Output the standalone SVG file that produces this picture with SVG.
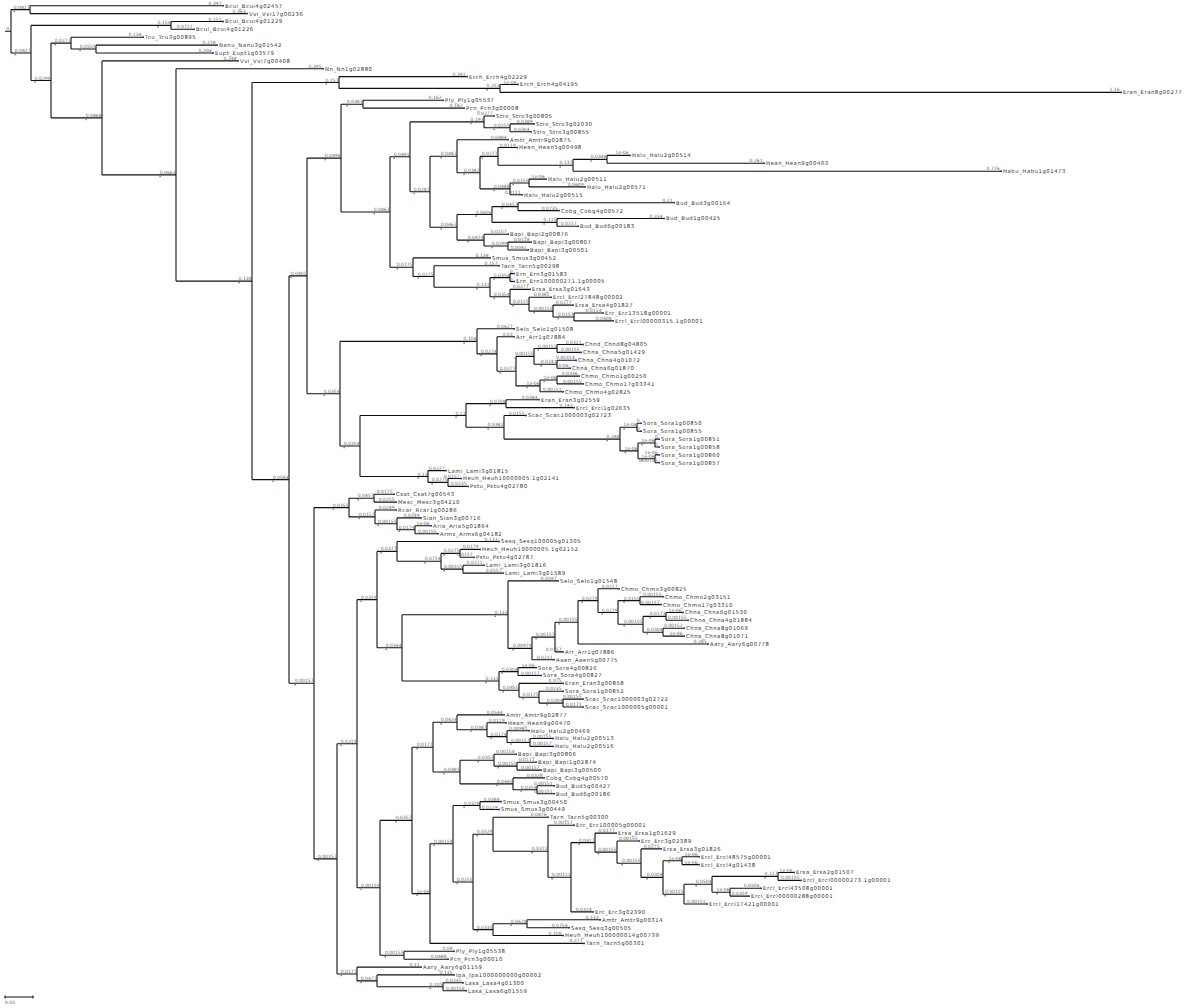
<svg xmlns="http://www.w3.org/2000/svg" width="1200" height="1008" viewBox="0 0 1200 1008">
<style>
.c{fill:none;stroke:#111;stroke-width:1.1}
.n{font-family:"DejaVu Sans",sans-serif;font-size:5.3px;letter-spacing:0.55px;fill:#333}
.b{font-family:"DejaVu Sans",sans-serif;font-size:4.5px;fill:#666;text-anchor:end}
.d{fill:#2a2ad0}
.r{fill:#d03030}
</style>
<rect width="1200" height="1008" fill="#fff"/>
<g id="connectors" class="c">
<path d="M5,31.3H11M11,9.6V53M11,9.6H30M11,53H31"/>
<path d="M30,5.7V13.6M30,5.7H222M30,13.6H246"/>
<path d="M31,25.4V80.5M31,25.4H171M31,80.5H51"/>
<path d="M171,21.5V29.3M171,21.5H222M171,29.3H193"/>
<path d="M51,43.1V117.9M51,43.1H71M51,117.9H102"/>
<path d="M71,37.2V49M71,37.2H142M71,49H96"/>
<path d="M96,45.1V53M96,45.1H216M96,53H212"/>
<path d="M102,60.9V174.9M102,60.9H237M102,174.9H176"/>
<path d="M176,68.7V281.1M176,68.7H322M176,281.1H252"/>
<path d="M252,82.5V479.6M252,82.5H339M252,479.6H289"/>
<path d="M339,76.6V88.4M339,76.6H466M339,88.4H500"/>
<path d="M500,84.5V92.4M500,84.5H517M500,92.4H1120"/>
<path d="M289,275.9V683.2M289,275.9H307M289,683.2H314"/>
<path d="M307,158.1V393.7M307,158.1H341M307,393.7H340"/>
<path d="M341,104.2V212M341,104.2H363M341,212H390"/>
<path d="M363,100.3V108.1M363,100.3H442M363,108.1H463"/>
<path d="M390,156.8V267.2M390,156.8H410M390,267.2H413"/>
<path d="M410,121.9V191.8M410,121.9H484M410,191.8H430"/>
<path d="M484,116V127.8M484,116H493M484,127.8H510"/>
<path d="M510,123.9V131.8M510,123.9H533M510,131.8H530"/>
<path d="M430,156.2V227.3M430,156.2H457M430,227.3H457"/>
<path d="M457,139.7V172.7M457,139.7H507M457,172.7H480"/>
<path d="M480,156.4V188.9M480,156.4H498M480,188.9H510"/>
<path d="M498,147.5V165.3M498,147.5H516M498,165.3H573"/>
<path d="M573,159.4V171.2M573,159.4H607M573,171.2H1000"/>
<path d="M607,155.4V163.3M607,155.4H629M607,163.3H763"/>
<path d="M510,183V194.8M510,183H529M510,194.8H521"/>
<path d="M529,179.1V186.9M529,179.1H545M529,186.9H584"/>
<path d="M457,214.5V240.1M457,214.5H492M457,240.1H484"/>
<path d="M492,206.6V222.4M492,206.6H518M492,222.4H557"/>
<path d="M518,202.7V210.6M518,202.7H673M518,210.6H558"/>
<path d="M557,218.5V226.3M557,218.5H663M557,226.3H577"/>
<path d="M484,234.2V246M484,234.2H507M484,246H508"/>
<path d="M508,242.1V250M508,242.1H530M508,250H527"/>
<path d="M413,257.9V276.5M413,257.9H489M413,276.5H434"/>
<path d="M434,265.7V287.2M434,265.7H498M434,287.2H490"/>
<path d="M490,277.6V296.8M490,277.6H510M490,296.8H510"/>
<path d="M510,273.6V281.5M510,273.6H513M510,281.5H513"/>
<path d="M510,289.4V304.2M510,289.4H529M510,304.2H529"/>
<path d="M529,297.3V311.1M529,297.3H550M529,311.1H553"/>
<path d="M553,305.1V317M553,305.1H572M553,317H574"/>
<path d="M574,313V320.9M574,313H602M574,320.9H612"/>
<path d="M340,341.4V446M340,341.4H477M340,446H360"/>
<path d="M477,328.8V353.9M477,328.8H513M477,353.9H497"/>
<path d="M497,336.7V371.2M497,336.7H513M497,371.2H516"/>
<path d="M516,356.4V385.9M516,356.4H534M516,385.9H540"/>
<path d="M534,348.5V364.2M534,348.5H557M534,364.2H557"/>
<path d="M557,344.5V352.4M557,344.5H582M557,352.4H580"/>
<path d="M557,360.3V368.2M557,360.3H575M557,368.2H569"/>
<path d="M540,380V391.8M540,380H557M540,391.8H562"/>
<path d="M557,376.1V383.9M557,376.1H578M557,383.9H582"/>
<path d="M360,415.5V476.5M360,415.5H466M360,476.5H428"/>
<path d="M466,403.6V427.3M466,403.6H506M466,427.3H504"/>
<path d="M506,399.7V407.6M506,399.7H538M506,407.6H573"/>
<path d="M504,415.5V439.1M504,415.5H525M504,439.1H620"/>
<path d="M620,427.3V450.9M620,427.3H637M620,450.9H638"/>
<path d="M637,423.3V431.2M637,423.3H640M637,431.2H640"/>
<path d="M638,443V458.8M638,443H655M638,458.8H655"/>
<path d="M655,439.1V447M655,439.1H658M655,447H658"/>
<path d="M655,454.9V462.7M655,454.9H658M655,462.7H658"/>
<path d="M428,470.6V482.4M428,470.6H445M428,482.4H448"/>
<path d="M448,478.5V486.4M448,478.5H460M448,486.4H467"/>
<path d="M314,507.6V858.9M314,507.6H349M314,858.9H337"/>
<path d="M349,498.2V516.9M349,498.2H374M349,516.9H375"/>
<path d="M374,494.3V502.1M374,494.3H393M374,502.1H395"/>
<path d="M375,510V523.8M375,510H395M375,523.8H397"/>
<path d="M397,517.9V529.7M397,517.9H420M397,529.7H415"/>
<path d="M415,525.8V533.7M415,525.8H430M415,533.7H437"/>
<path d="M337,743.7V974M337,743.7H357M337,974H357"/>
<path d="M357,599.6V887.8M357,599.6H377M357,887.8H380"/>
<path d="M377,551.4V647.8M377,551.4H397M377,647.8H402"/>
<path d="M397,541.5V561.3M397,541.5H498M397,561.3H441"/>
<path d="M441,553.4V569.1M441,553.4H460M441,569.1H463"/>
<path d="M460,549.4V557.3M460,549.4H479M460,557.3H473"/>
<path d="M463,565.2V573.1M463,565.2H483M463,573.1H502"/>
<path d="M402,614.7V681M402,614.7H508M402,681H499"/>
<path d="M508,580.9V648.4M508,580.9H557M508,648.4H532"/>
<path d="M532,637.1V659.7M532,637.1H555M532,659.7H553"/>
<path d="M555,622.3V651.9M555,622.3H578M555,651.9H562"/>
<path d="M578,600.6V644M578,600.6H598M578,644H707"/>
<path d="M598,588.8V612.5M598,588.8H618M598,612.5H618"/>
<path d="M618,600.6V624.3M618,600.6H640M618,624.3H643"/>
<path d="M640,596.7V604.6M640,596.7H662M640,604.6H660"/>
<path d="M643,616.4V632.2M643,616.4H666M643,632.2H663"/>
<path d="M666,612.5V620.3M666,612.5H682M666,620.3H687"/>
<path d="M663,628.2V636.1M663,628.2H683M663,636.1H683"/>
<path d="M499,671.6V690.3M499,671.6H518M499,690.3H519"/>
<path d="M518,667.6V675.5M518,667.6H535M518,675.5H540"/>
<path d="M519,683.4V697.2M519,683.4H562M519,697.2H539"/>
<path d="M539,691.3V703.1M539,691.3H562M539,703.1H563"/>
<path d="M563,699.1V707M563,699.1H582M563,707H582"/>
<path d="M380,820.4V955.2M380,820.4H412M380,955.2H404"/>
<path d="M412,747.2V893.6M412,747.2H433M412,893.6H430"/>
<path d="M433,722.3V772M433,722.3H457M433,772H460"/>
<path d="M457,714.9V729.7M457,714.9H503M457,729.7H487"/>
<path d="M487,722.8V736.6M487,722.8H505M487,736.6H507"/>
<path d="M507,730.7V742.5M507,730.7H528M507,742.5H530"/>
<path d="M530,738.5V746.4M530,738.5H552M530,746.4H552"/>
<path d="M460,760.2V783.9M460,760.2H494M460,783.9H513"/>
<path d="M494,754.3V766.1M494,754.3H515M494,766.1H517"/>
<path d="M517,762.2V770.1M517,762.2H535M517,770.1H540"/>
<path d="M513,777.9V789.8M513,777.9H543M513,789.8H537"/>
<path d="M537,785.8V793.7M537,785.8H553M537,793.7H553"/>
<path d="M430,843.7V943.4M430,843.7H453M430,943.4H583"/>
<path d="M453,805.5V882M453,805.5H480M453,882H473"/>
<path d="M480,801.6V809.5M480,801.6H500M480,809.5H498"/>
<path d="M473,834.3V929.6M473,834.3H493M473,929.6H493"/>
<path d="M493,817.3V851.2M493,817.3H547M493,851.2H548"/>
<path d="M548,825.2V877.3M548,825.2H573M548,877.3H571"/>
<path d="M571,842.6V911.9M571,842.6H595M571,911.9H592"/>
<path d="M595,833.1V852.1M595,833.1H615M595,852.1H617"/>
<path d="M617,841V863.2M617,841H638M617,863.2H641"/>
<path d="M641,848.9V877.4M641,848.9H660M641,877.4H663"/>
<path d="M663,860.7V894.2M663,860.7H682M663,894.2H684"/>
<path d="M682,856.7V864.6M682,856.7H698M682,864.6H698"/>
<path d="M684,884.3V904M684,884.3H712M684,904H706"/>
<path d="M712,876.4V892.2M712,876.4H778M712,892.2H730"/>
<path d="M778,872.5V880.4M778,872.5H793M778,880.4H800"/>
<path d="M730,888.3V896.1M730,888.3H760M730,896.1H748"/>
<path d="M493,923.7V935.5M493,923.7H527M493,935.5H562"/>
<path d="M527,919.8V927.7M527,919.8H599M527,927.7H568"/>
<path d="M404,951.3V959.2M404,951.3H453M404,959.2H447"/>
<path d="M357,967.1V980.9M357,967.1H420M357,980.9H377"/>
<path d="M377,974.9V986.8M377,974.9H453M377,986.8H443"/>
<path d="M443,982.8V990.7M443,982.8H462M443,990.7H465"/>
</g>
<g id="scale"><path class="c" d="M5,997H33M5,995.5V998.5M33,995.5V998.5"/><text class="b" style="text-anchor:start" x="5" y="1004">0.05</text></g>
<g id="root"><text class="b" x="9" y="30">0</text></g>
<g id="n1"><text class="b" x="29.5" y="8.6">0.0827</text><rect class="r" x="13.5" y="10.4" width="1.2" height="1.5"/></g>
<g id="n2"><text class="b" x="30.5" y="52">0.0827</text><rect class="r" x="14.5" y="53.8" width="1.2" height="1.5"/></g>
<g id="n3"><text class="b" x="170.5" y="24.4">0.154</text><rect class="r" x="157.5" y="26.2" width="1.2" height="1.5"/></g>
<g id="n4"><text class="b" x="50.5" y="79.5">0.0299</text><rect class="r" x="34.5" y="81.3" width="1.2" height="1.5"/></g>
<g id="n5"><text class="b" x="70.5" y="42.1">0.0272</text><rect class="r" x="54.5" y="43.9" width="1.2" height="1.5"/></g>
<g id="n6"><text class="b" x="95.5" y="48">0.0555</text><rect class="r" x="79.5" y="49.8" width="1.2" height="1.5"/></g>
<g id="n7"><text class="b" x="101.5" y="116.9">0.0868</text><rect class="r" x="85.5" y="118.7" width="1.2" height="1.5"/></g>
<g id="n8"><text class="b" x="175.5" y="173.9">0.0663</text><rect class="r" x="159.5" y="175.7" width="1.2" height="1.5"/></g>
<g id="n9"><text class="b" x="251.5" y="280.1">0.138</text><rect class="r" x="238.5" y="281.9" width="1.2" height="1.5"/></g>
<g id="n10"><text class="b" x="338.5" y="81.5">0.157</text><rect class="r" x="325.5" y="83.3" width="1.2" height="1.5"/></g>
<g id="n11"><text class="b" x="499.5" y="87.4">0.253</text><rect class="r" x="486.5" y="89.2" width="1.2" height="1.5"/></g>
<g id="n12"><text class="b" x="288.5" y="478.6">0.0584</text><rect class="r" x="272.5" y="480.4" width="1.2" height="1.5"/></g>
<g id="n13"><text class="b" x="306.5" y="274.9">0.0405</text><rect class="r" x="290.5" y="276.7" width="1.2" height="1.5"/></g>
<g id="n14"><text class="b" x="340.5" y="157.1">0.0496</text><rect class="r" x="324.5" y="158.9" width="1.2" height="1.5"/></g>
<g id="n15"><text class="b" x="362.5" y="103.2">0.0383</text><rect class="r" x="346.5" y="105" width="1.2" height="1.5"/></g>
<g id="n16"><text class="b" x="389.5" y="211">0.0863</text><rect class="r" x="373.5" y="212.8" width="1.2" height="1.5"/></g>
<g id="n17"><text class="b" x="409.5" y="155.8">0.0491</text><rect class="r" x="393.5" y="157.6" width="1.2" height="1.5"/></g>
<g id="n18"><text class="b" x="483.5" y="120.9">0.193</text><rect class="r" x="470.5" y="122.7" width="1.2" height="1.5"/></g>
<g id="n19"><text class="b" x="509.5" y="126.8">0.0255</text><rect class="r" x="493.5" y="128.6" width="1.2" height="1.5"/></g>
<g id="n20"><text class="b" x="429.5" y="190.8">0.0287</text><rect class="r" x="413.5" y="192.6" width="1.2" height="1.5"/></g>
<g id="n21"><text class="b" x="456.5" y="155.2">0.0482</text><rect class="r" x="440.5" y="157" width="1.2" height="1.5"/></g>
<g id="n22"><text class="b" x="479.5" y="171.7">0.0382</text><rect class="r" x="463.5" y="173.5" width="1.2" height="1.5"/></g>
<g id="n23"><text class="b" x="497.5" y="155.4">0.0277</text><rect class="r" x="481.5" y="157.2" width="1.2" height="1.5"/></g>
<g id="n24"><text class="b" x="572.5" y="164.3">0.137</text><rect class="r" x="559.5" y="166.1" width="1.2" height="1.5"/></g>
<g id="n25"><text class="b" x="606.5" y="158.4">0.0348</text><rect class="r" x="590.5" y="160.2" width="1.2" height="1.5"/></g>
<g id="n26"><text class="b" x="509.5" y="187.9">0.0488</text><rect class="r" x="493.5" y="189.7" width="1.2" height="1.5"/></g>
<g id="n27"><text class="b" x="528.5" y="182">0.0155</text><rect class="r" x="512.5" y="183.8" width="1.2" height="1.5"/></g>
<g id="n28"><text class="b" x="456.5" y="226.3">0.0462</text><rect class="r" x="440.5" y="228.1" width="1.2" height="1.5"/></g>
<g id="n29"><text class="b" x="491.5" y="213.5">0.0606</text><rect class="r" x="475.5" y="215.3" width="1.2" height="1.5"/></g>
<g id="n30"><text class="b" x="517.5" y="205.6">0.0457</text><rect class="r" x="501.5" y="207.4" width="1.2" height="1.5"/></g>
<g id="n31"><text class="b" x="556.5" y="221.4">0.115</text><rect class="r" x="543.5" y="223.2" width="1.2" height="1.5"/></g>
<g id="n32"><text class="b" x="483.5" y="239.1">0.0474</text><rect class="r" x="467.5" y="240.9" width="1.2" height="1.5"/></g>
<g id="n33"><text class="b" x="507.5" y="245">0.0299</text><rect class="r" x="491.5" y="246.8" width="1.2" height="1.5"/></g>
<g id="n34"><text class="b" x="412.5" y="266.2">0.0775</text><rect class="r" x="396.5" y="268" width="1.2" height="1.5"/></g>
<g id="n35"><text class="b" x="433.5" y="275.5">0.0275</text><rect class="r" x="417.5" y="277.3" width="1.2" height="1.5"/></g>
<g id="n36"><text class="b" x="489.5" y="286.2">0.131</text><rect class="r" x="476.5" y="288" width="1.2" height="1.5"/></g>
<g id="n37"><text class="b" x="509.5" y="276.6">0.0354</text><rect class="r" x="493.5" y="278.4" width="1.2" height="1.5"/></g>
<g id="n38"><text class="b" x="509.5" y="295.8">0.0354</text><rect class="r" x="493.5" y="297.6" width="1.2" height="1.5"/></g>
<g id="n39"><text class="b" x="528.5" y="303.2">0.0115</text><rect class="r" x="512.5" y="305" width="1.2" height="1.5"/></g>
<g id="n40"><text class="b" x="552.5" y="310.1">0.00155</text><rect class="r" x="533.5" y="311.9" width="1.2" height="1.5"/></g>
<g id="n41"><text class="b" x="573.5" y="316">0.0157</text><rect class="r" x="557.5" y="317.8" width="1.2" height="1.5"/></g>
<g id="n42"><text class="b" x="339.5" y="392.7">0.0354</text><rect class="r" x="323.5" y="394.5" width="1.2" height="1.5"/></g>
<g id="n43"><text class="b" x="476.5" y="340.4">0.108</text><rect class="r" x="463.5" y="342.2" width="1.2" height="1.5"/></g>
<g id="n44"><text class="b" x="496.5" y="352.9">0.0274</text><rect class="r" x="480.5" y="354.7" width="1.2" height="1.5"/></g>
<g id="n45"><text class="b" x="515.5" y="370.2">0.0277</text><rect class="r" x="499.5" y="372" width="1.2" height="1.5"/></g>
<g id="n46"><text class="b" x="533.5" y="355.4">0.00155</text><rect class="r" x="514.5" y="357.2" width="1.2" height="1.5"/></g>
<g id="n47"><text class="b" x="556.5" y="347.5">0.00155</text><rect class="r" x="537.5" y="349.3" width="1.2" height="1.5"/></g>
<g id="n48"><text class="b" x="556.5" y="363.2">0.0241</text><rect class="r" x="540.5" y="365" width="1.2" height="1.5"/></g>
<g id="n49"><text class="b" x="539.5" y="384.9">1e-06</text><rect class="r" x="526.5" y="386.7" width="1.2" height="1.5"/></g>
<g id="n50"><text class="b" x="556.5" y="379">1e-06</text><rect class="r" x="543.5" y="380.8" width="1.2" height="1.5"/></g>
<g id="n51"><text class="b" x="359.5" y="445">0.0354</text><rect class="r" x="343.5" y="446.8" width="1.2" height="1.5"/></g>
<g id="n52"><text class="b" x="465.5" y="414.5">0.13</text><rect class="r" x="455.5" y="416.3" width="1.2" height="1.5"/></g>
<g id="n53"><text class="b" x="505.5" y="402.6">0.0708</text><rect class="r" x="489.5" y="404.4" width="1.2" height="1.5"/></g>
<g id="n54"><text class="b" x="503.5" y="426.3">0.0382</text><rect class="r" x="487.5" y="428.1" width="1.2" height="1.5"/></g>
<g id="n55"><text class="b" x="619.5" y="438.1">0.288</text><rect class="r" x="606.5" y="439.9" width="1.2" height="1.5"/></g>
<g id="n56"><text class="b" x="636.5" y="426.3">1e-06</text><rect class="r" x="623.5" y="428.1" width="1.2" height="1.5"/></g>
<g id="n57"><text class="b" x="637.5" y="449.9">1e-06</text><rect class="r" x="624.5" y="451.7" width="1.2" height="1.5"/></g>
<g id="n58"><text class="b" x="654.5" y="442">1e-06</text><rect class="r" x="641.5" y="443.8" width="1.2" height="1.5"/></g>
<g id="n59"><text class="b" x="654.5" y="457.8">1e-06</text><rect class="r" x="641.5" y="459.6" width="1.2" height="1.5"/></g>
<g id="n60"><text class="b" x="427.5" y="475.5">0.13</text><rect class="r" x="417.5" y="477.3" width="1.2" height="1.5"/></g>
<g id="n61"><text class="b" x="447.5" y="481.4">0.0275</text><rect class="r" x="431.5" y="483.2" width="1.2" height="1.5"/></g>
<g id="n62"><text class="b" x="313.5" y="682.2">0.00157</text><rect class="r" x="294.5" y="684" width="1.2" height="1.5"/></g>
<g id="n63"><text class="b" x="348.5" y="506.6">0.0355</text><rect class="r" x="332.5" y="508.4" width="1.2" height="1.5"/></g>
<g id="n64"><text class="b" x="373.5" y="497.2">0.0457</text><rect class="r" x="357.5" y="499" width="1.2" height="1.5"/></g>
<g id="n65"><text class="b" x="374.5" y="515.9">0.0157</text><rect class="r" x="358.5" y="517.7" width="1.2" height="1.5"/></g>
<g id="n66"><text class="b" x="396.5" y="522.8">0.00155</text><rect class="r" x="377.5" y="524.6" width="1.2" height="1.5"/></g>
<g id="n67"><text class="b" x="414.5" y="528.7">0.0174</text><rect class="r" x="398.5" y="530.5" width="1.2" height="1.5"/></g>
<g id="n68"><text class="b" x="336.5" y="857.9">0.00157</text><rect class="r" x="317.5" y="859.7" width="1.2" height="1.5"/></g>
<g id="n69"><text class="b" x="356.5" y="742.7">0.0319</text><rect class="r" x="340.5" y="744.5" width="1.2" height="1.5"/></g>
<g id="n74"><text class="b" x="376.5" y="598.6">0.0319</text><rect class="r" x="360.5" y="600.4" width="1.2" height="1.5"/></g>
<g id="n70"><text class="b" x="396.5" y="550.4">0.0377</text><rect class="r" x="380.5" y="552.2" width="1.2" height="1.5"/></g>
<g id="n71"><text class="b" x="440.5" y="560.3">0.0754</text><rect class="r" x="424.5" y="562.1" width="1.2" height="1.5"/></g>
<g id="n72"><text class="b" x="459.5" y="552.4">0.0275</text><rect class="r" x="443.5" y="554.2" width="1.2" height="1.5"/></g>
<g id="n73"><text class="b" x="462.5" y="568.1">0.00155</text><rect class="r" x="443.5" y="569.9" width="1.2" height="1.5"/></g>
<g id="n75"><text class="b" x="401.5" y="646.8">0.0344</text><rect class="r" x="385.5" y="648.6" width="1.2" height="1.5"/></g>
<g id="n76"><text class="b" x="507.5" y="613.7">0.133</text><rect class="r" x="494.5" y="615.5" width="1.2" height="1.5"/></g>
<g id="n77"><text class="b" x="531.5" y="647.4">0.00974</text><rect class="r" x="512.5" y="649.2" width="1.2" height="1.5"/></g>
<g id="n78"><text class="b" x="554.5" y="636.1">0.00157</text><rect class="r" x="535.5" y="637.9" width="1.2" height="1.5"/></g>
<g id="n79"><text class="b" x="577.5" y="621.3">0.00155</text><rect class="r" x="558.5" y="623.1" width="1.2" height="1.5"/></g>
<g id="n80"><text class="b" x="597.5" y="599.6">0.0279</text><rect class="r" x="581.5" y="601.4" width="1.2" height="1.5"/></g>
<g id="n81"><text class="b" x="617.5" y="611.5">0.0279</text><rect class="r" x="601.5" y="613.3" width="1.2" height="1.5"/></g>
<g id="n82"><text class="b" x="639.5" y="599.6">0.0155</text><rect class="r" x="623.5" y="601.4" width="1.2" height="1.5"/></g>
<g id="n83"><text class="b" x="642.5" y="623.3">0.00155</text><rect class="r" x="623.5" y="625.1" width="1.2" height="1.5"/></g>
<g id="n84"><text class="b" x="665.5" y="615.4">0.0173</text><rect class="r" x="649.5" y="617.2" width="1.2" height="1.5"/></g>
<g id="n85"><text class="b" x="662.5" y="631.2">0.0304</text><rect class="r" x="646.5" y="633" width="1.2" height="1.5"/></g>
<g id="n86"><text class="b" x="498.5" y="680">0.131</text><rect class="r" x="485.5" y="681.8" width="1.2" height="1.5"/></g>
<g id="n87"><text class="b" x="517.5" y="670.6">0.0304</text><rect class="r" x="501.5" y="672.4" width="1.2" height="1.5"/></g>
<g id="n88"><text class="b" x="518.5" y="689.3">0.0455</text><rect class="r" x="502.5" y="691.1" width="1.2" height="1.5"/></g>
<g id="n89"><text class="b" x="538.5" y="696.2">0.0175</text><rect class="r" x="522.5" y="698" width="1.2" height="1.5"/></g>
<g id="n90"><text class="b" x="562.5" y="702.1">0.0304</text><rect class="r" x="546.5" y="703.9" width="1.2" height="1.5"/></g>
<g id="n91"><text class="b" x="379.5" y="886.8">0.00159</text><rect class="r" x="360.5" y="888.6" width="1.2" height="1.5"/></g>
<g id="n92"><text class="b" x="411.5" y="819.4">0.0357</text><rect class="r" x="395.5" y="821.2" width="1.2" height="1.5"/></g>
<g id="n93"><text class="b" x="432.5" y="746.2">0.0177</text><rect class="r" x="416.5" y="748" width="1.2" height="1.5"/></g>
<g id="n94"><text class="b" x="456.5" y="721.3">0.0424</text><rect class="r" x="440.5" y="723.1" width="1.2" height="1.5"/></g>
<g id="n95"><text class="b" x="486.5" y="728.7">0.0387</text><rect class="r" x="470.5" y="730.5" width="1.2" height="1.5"/></g>
<g id="n96"><text class="b" x="506.5" y="735.6">0.0174</text><rect class="r" x="490.5" y="737.4" width="1.2" height="1.5"/></g>
<g id="n97"><text class="b" x="529.5" y="741.5">0.00157</text><rect class="r" x="510.5" y="743.3" width="1.2" height="1.5"/></g>
<g id="n98"><text class="b" x="459.5" y="771">0.0481</text><rect class="r" x="443.5" y="772.8" width="1.2" height="1.5"/></g>
<g id="n99"><text class="b" x="493.5" y="759.2">0.0353</text><rect class="r" x="477.5" y="761" width="1.2" height="1.5"/></g>
<g id="n100"><text class="b" x="516.5" y="765.1">0.00155</text><rect class="r" x="497.5" y="766.9" width="1.2" height="1.5"/></g>
<g id="n101"><text class="b" x="512.5" y="782.9">0.0445</text><rect class="r" x="496.5" y="784.7" width="1.2" height="1.5"/></g>
<g id="n102"><text class="b" x="536.5" y="788.8">0.0354</text><rect class="r" x="520.5" y="790.6" width="1.2" height="1.5"/></g>
<g id="n103"><text class="b" x="429.5" y="892.6">1e-06</text><rect class="r" x="416.5" y="894.4" width="1.2" height="1.5"/></g>
<g id="n104"><text class="b" x="452.5" y="842.7">0.00159</text><rect class="r" x="433.5" y="844.5" width="1.2" height="1.5"/></g>
<g id="n104a"><text class="b" x="479.5" y="804.5">0.0328</text><rect class="r" x="463.5" y="806.3" width="1.2" height="1.5"/></g>
<g id="n105"><text class="b" x="472.5" y="881">0.0255</text><rect class="r" x="456.5" y="882.8" width="1.2" height="1.5"/></g>
<g id="n106"><text class="b" x="492.5" y="833.3">0.0529</text><rect class="r" x="476.5" y="835.1" width="1.2" height="1.5"/></g>
<g id="n107"><text class="b" x="547.5" y="850.2">0.0372</text><rect class="r" x="531.5" y="852" width="1.2" height="1.5"/></g>
<g id="n108"><text class="b" x="570.5" y="876.3">0.00111</text><rect class="r" x="551.5" y="878.1" width="1.2" height="1.5"/></g>
<g id="n109"><text class="b" x="594.5" y="841.6">0.0417</text><rect class="r" x="578.5" y="843.4" width="1.2" height="1.5"/></g>
<g id="n110"><text class="b" x="616.5" y="851.1">0.00155</text><rect class="r" x="597.5" y="852.9" width="1.2" height="1.5"/></g>
<g id="n111"><text class="b" x="640.5" y="862.2">0.00155</text><rect class="r" x="621.5" y="864" width="1.2" height="1.5"/></g>
<g id="n112"><text class="b" x="662.5" y="876.4">0.0304</text><rect class="r" x="646.5" y="878.2" width="1.2" height="1.5"/></g>
<g id="n113"><text class="b" x="681.5" y="859.7">1e-06</text><rect class="r" x="668.5" y="861.5" width="1.2" height="1.5"/></g>
<g id="n114"><text class="b" x="683.5" y="893.2">0.00155</text><rect class="r" x="664.5" y="895" width="1.2" height="1.5"/></g>
<g id="n116"><text class="b" x="711.5" y="883.3">0.0504</text><rect class="r" x="695.5" y="885.1" width="1.2" height="1.5"/></g>
<g id="n115"><text class="b" x="777.5" y="875.4">0.117</text><rect class="r" x="764.5" y="877.2" width="1.2" height="1.5"/></g>
<g id="n117"><text class="b" x="729.5" y="891.2">1e-06</text><rect class="r" x="716.5" y="893" width="1.2" height="1.5"/></g>
<g id="n118"><text class="b" x="492.5" y="928.6">0.0335</text><rect class="r" x="476.5" y="930.4" width="1.2" height="1.5"/></g>
<g id="n119"><text class="b" x="526.5" y="922.7">0.0628</text><rect class="r" x="510.5" y="924.5" width="1.2" height="1.5"/></g>
<g id="n120"><text class="b" x="403.5" y="954.2">0.00155</text><rect class="r" x="384.5" y="956" width="1.2" height="1.5"/></g>
<g id="n121"><text class="b" x="356.5" y="973">0.0177</text><rect class="r" x="340.5" y="974.8" width="1.2" height="1.5"/></g>
<g id="n122"><text class="b" x="376.5" y="979.9">0.0477</text><rect class="r" x="360.5" y="981.7" width="1.2" height="1.5"/></g>
<g id="n123"><text class="b" x="442.5" y="985.8">0.105</text><rect class="r" x="429.5" y="987.6" width="1.2" height="1.5"/></g>
<g id="t1"><rect class="d" x="222" y="4.9" width="2" height="1.6"/><text class="b" x="221.5" y="4.7">0.397</text><text class="n" x="225" y="7.6">Bcui_Bcui4g02457</text></g>
<g id="t2"><rect class="d" x="246" y="12.8" width="2" height="1.6"/><text class="b" x="245.5" y="12.6">0.363</text><text class="n" x="249" y="15.5">Vvi_Vvi17g00236</text></g>
<g id="t3"><rect class="d" x="222" y="20.7" width="2" height="1.6"/><text class="b" x="221.5" y="20.5">0.151</text><text class="n" x="225" y="23.4">Bcui_Bcui4g01229</text></g>
<g id="t4"><rect class="d" x="193" y="28.5" width="2" height="1.6"/><text class="b" x="192.5" y="28.3">0.0711</text><text class="n" x="196" y="31.2">Bcui_Bcui4g01226</text></g>
<g id="t5"><rect class="d" x="142" y="36.4" width="2" height="1.6"/><text class="b" x="141.5" y="36.2">0.138</text><text class="n" x="145" y="39.1">Tcu_Tcu3g00895</text></g>
<g id="t6"><rect class="d" x="216" y="44.3" width="2" height="1.6"/><text class="b" x="215.5" y="44.1">0.218</text><text class="n" x="219" y="47">Nanu_Nanu3g01542</text></g>
<g id="t7"><rect class="d" x="212" y="52.2" width="2" height="1.6"/><text class="b" x="211.5" y="52">0.206</text><text class="n" x="215" y="54.9">Eupt_Eupt1g03579</text></g>
<g id="t8"><rect class="d" x="237" y="60.1" width="2" height="1.6"/><text class="b" x="236.5" y="59.9">0.248</text><text class="n" x="240" y="62.8">Vvi_Vvi7g00408</text></g>
<g id="t9"><rect class="d" x="322" y="67.9" width="2" height="1.6"/><text class="b" x="321.5" y="67.7">0.395</text><text class="n" x="325" y="70.6">Nn_Nn1g02880</text></g>
<g id="t10"><rect class="d" x="466" y="75.8" width="2" height="1.6"/><text class="b" x="465.5" y="75.6">0.392</text><text class="n" x="469" y="78.5">Erch_Erch4g02229</text></g>
<g id="t11"><rect class="d" x="517" y="83.7" width="2" height="1.6"/><text class="b" x="516.5" y="83.5">1e-06</text><text class="n" x="520" y="86.4">Erch_Erch4g04195</text></g>
<g id="t12"><rect class="d" x="1120" y="91.6" width="2" height="1.6"/><text class="b" x="1119.5" y="91.4">1.16</text><text class="n" x="1123" y="94.3">Eran_Eran8g00277</text></g>
<g id="t13"><rect class="d" x="442" y="99.5" width="2" height="1.6"/><text class="b" x="441.5" y="99.3">0.162</text><text class="n" x="445" y="102.2">Ply_Ply1g05537</text></g>
<g id="t14"><rect class="d" x="463" y="107.3" width="2" height="1.6"/><text class="b" x="462.5" y="107.1">0.182</text><text class="n" x="466" y="110">Pcn_Pcn3g00008</text></g>
<g id="t15"><rect class="d" x="493" y="115.2" width="2" height="1.6"/><text class="b" x="492.5" y="115">0.0277</text><text class="n" x="496" y="117.9">Stro_Stro3g00805</text></g>
<g id="t16"><rect class="d" x="533" y="123.1" width="2" height="1.6"/><text class="b" x="532.5" y="122.9">0.0389</text><text class="n" x="536" y="125.8">Stro_Stro3g02030</text></g>
<g id="t17"><rect class="d" x="530" y="131" width="2" height="1.6"/><text class="b" x="529.5" y="130.8">0.0304</text><text class="n" x="533" y="133.7">Stro_Stro3g00855</text></g>
<g id="t18"><rect class="d" x="507" y="138.9" width="2" height="1.6"/><text class="b" x="506.5" y="138.7">0.0484</text><text class="n" x="510" y="141.6">Amtr_Amtr9g02875</text></g>
<g id="t19"><rect class="d" x="516" y="146.7" width="2" height="1.6"/><text class="b" x="515.5" y="146.5">0.0119</text><text class="n" x="519" y="149.4">Hean_Hean5g00498</text></g>
<g id="t20"><rect class="d" x="629" y="154.6" width="2" height="1.6"/><text class="b" x="628.5" y="154.4">1e-06</text><text class="n" x="632" y="157.3">Halu_Halu2g00514</text></g>
<g id="t21"><rect class="d" x="763" y="162.5" width="2" height="1.6"/><text class="b" x="762.5" y="162.3">0.261</text><text class="n" x="766" y="165.2">Hean_Hean9g00463</text></g>
<g id="t22"><rect class="d" x="1000" y="170.4" width="2" height="1.6"/><text class="b" x="999.5" y="170.2">0.776</text><text class="n" x="1003" y="173.1">Habu_Habu1g01473</text></g>
<g id="t23"><rect class="d" x="545" y="178.3" width="2" height="1.6"/><text class="b" x="544.5" y="178.1">1e-06</text><text class="n" x="548" y="181">Halu_Halu2g00511</text></g>
<g id="t24"><rect class="d" x="584" y="186.1" width="2" height="1.6"/><text class="b" x="583.5" y="185.9">0.0609</text><text class="n" x="587" y="188.8">Halu_Halu2g00571</text></g>
<g id="t25"><rect class="d" x="521" y="194" width="2" height="1.6"/><text class="b" x="520.5" y="193.8">0.0111</text><text class="n" x="524" y="196.7">Halu_Halu2g00515</text></g>
<g id="t26"><rect class="d" x="673" y="201.9" width="2" height="1.6"/><text class="b" x="672.5" y="201.7">0.21</text><text class="n" x="676" y="204.6">Bud_Bud3g00154</text></g>
<g id="t27"><rect class="d" x="558" y="209.8" width="2" height="1.6"/><text class="b" x="557.5" y="209.6">0.0735</text><text class="n" x="561" y="212.5">Cobg_Cobg4g00572</text></g>
<g id="t28"><rect class="d" x="663" y="217.7" width="2" height="1.6"/><text class="b" x="662.5" y="217.5">0.334</text><text class="n" x="666" y="220.4">Bud_Bud1g00425</text></g>
<g id="t29"><rect class="d" x="577" y="225.5" width="2" height="1.6"/><text class="b" x="576.5" y="225.3">0.0217</text><text class="n" x="580" y="228.2">Bud_Bud6g00183</text></g>
<g id="t30"><rect class="d" x="507" y="233.4" width="2" height="1.6"/><text class="b" x="506.5" y="233.2">0.0157</text><text class="n" x="510" y="236.1">Bapi_Bapi2g00876</text></g>
<g id="t31"><rect class="d" x="530" y="241.3" width="2" height="1.6"/><text class="b" x="529.5" y="241.1">0.0118</text><text class="n" x="533" y="244">Bapi_Bapi3g00807</text></g>
<g id="t32"><rect class="d" x="527" y="249.2" width="2" height="1.6"/><text class="b" x="526.5" y="249">0.0041</text><text class="n" x="530" y="251.9">Bapi_Bapi3g00501</text></g>
<g id="t33"><rect class="d" x="489" y="257.1" width="2" height="1.6"/><text class="b" x="488.5" y="256.9">0.138</text><text class="n" x="492" y="259.8">Smus_Smus3g00452</text></g>
<g id="t34"><rect class="d" x="498" y="264.9" width="2" height="1.6"/><text class="b" x="497.5" y="264.7">0.157</text><text class="n" x="501" y="267.6">Tacn_Tacn5g00298</text></g>
<g id="t35"><rect class="d" x="513" y="272.8" width="2" height="1.6"/><text class="b" x="512.5" y="272.6">0</text><text class="n" x="516" y="275.5">Ern_Ern3g01583</text></g>
<g id="t36"><rect class="d" x="513" y="280.7" width="2" height="1.6"/><text class="b" x="512.5" y="280.5">0</text><text class="n" x="516" y="283.4">Ern_Ern100000271.1g00005</text></g>
<g id="t37"><rect class="d" x="529" y="288.6" width="2" height="1.6"/><text class="b" x="528.5" y="288.4">0.0277</text><text class="n" x="532" y="291.3">Ersa_Ersa3g01643</text></g>
<g id="t38"><rect class="d" x="550" y="296.5" width="2" height="1.6"/><text class="b" x="549.5" y="296.3">0.0381</text><text class="n" x="553" y="299.2">Ercl_Ercl27848g00002</text></g>
<g id="t39"><rect class="d" x="572" y="304.3" width="2" height="1.6"/><text class="b" x="571.5" y="304.1">0.0277</text><text class="n" x="575" y="307">Ersa_Ersa4g01827</text></g>
<g id="t40"><rect class="d" x="602" y="312.2" width="2" height="1.6"/><text class="b" x="601.5" y="312">0.0114</text><text class="n" x="605" y="314.9">Erc_Erc13518g00001</text></g>
<g id="t41"><rect class="d" x="612" y="320.1" width="2" height="1.6"/><text class="b" x="611.5" y="319.9">0.0408</text><text class="n" x="615" y="322.8">Ercl_Ercl00000315.1g00001</text></g>
<g id="t42"><rect class="d" x="513" y="328" width="2" height="1.6"/><text class="b" x="512.5" y="327.8">0.0627</text><text class="n" x="516" y="330.7">Selo_Selo1g01508</text></g>
<g id="t43"><rect class="d" x="513" y="335.9" width="2" height="1.6"/><text class="b" x="512.5" y="335.7">0.03</text><text class="n" x="516" y="338.6">Arr_Arr1g07884</text></g>
<g id="t44"><rect class="d" x="582" y="343.7" width="2" height="1.6"/><text class="b" x="581.5" y="343.5">0.0321</text><text class="n" x="585" y="346.4">Chnd_Chnd8g04805</text></g>
<g id="t45"><rect class="d" x="580" y="351.6" width="2" height="1.6"/><text class="b" x="579.5" y="351.4">0.00155</text><text class="n" x="583" y="354.3">Chna_Chna5g01429</text></g>
<g id="t46"><rect class="d" x="575" y="359.5" width="2" height="1.6"/><text class="b" x="574.5" y="359.3">0.00314</text><text class="n" x="578" y="362.2">Chna_Chna4g01072</text></g>
<g id="t47"><rect class="d" x="569" y="367.4" width="2" height="1.6"/><text class="b" x="568.5" y="367.2">1e-06</text><text class="n" x="572" y="370.1">Chna_Chna6g01870</text></g>
<g id="t48"><rect class="d" x="578" y="375.3" width="2" height="1.6"/><text class="b" x="577.5" y="375.1">0.0336</text><text class="n" x="581" y="378">Chmo_Chmo1g00250</text></g>
<g id="t49"><rect class="d" x="582" y="383.1" width="2" height="1.6"/><text class="b" x="581.5" y="382.9">0.00155</text><text class="n" x="585" y="385.8">Chmo_Chmo17g03341</text></g>
<g id="t50"><rect class="d" x="562" y="391" width="2" height="1.6"/><text class="b" x="561.5" y="390.8">0.00151</text><text class="n" x="565" y="393.7">Chmo_Chmo4g02825</text></g>
<g id="t51"><rect class="d" x="538" y="398.9" width="2" height="1.6"/><text class="b" x="537.5" y="398.7">0.0384</text><text class="n" x="541" y="401.6">Eran_Eran3g02559</text></g>
<g id="t52"><rect class="d" x="573" y="406.8" width="2" height="1.6"/><text class="b" x="572.5" y="406.6">0.143</text><text class="n" x="576" y="409.5">Ercl_Ercl1g02635</text></g>
<g id="t53"><rect class="d" x="525" y="414.7" width="2" height="1.6"/><text class="b" x="524.5" y="414.5">0.0155</text><text class="n" x="528" y="417.4">Scac_Scac1000003g02723</text></g>
<g id="t54"><rect class="d" x="640" y="422.5" width="2" height="1.6"/><text class="b" x="639.5" y="422.3">0</text><text class="n" x="643" y="425.2">Sora_Sora1g00850</text></g>
<g id="t55"><rect class="d" x="640" y="430.4" width="2" height="1.6"/><text class="b" x="639.5" y="430.2">0</text><text class="n" x="643" y="433.1">Sora_Sora1g00855</text></g>
<g id="t56"><rect class="d" x="658" y="438.3" width="2" height="1.6"/><text class="b" x="657.5" y="438.1">0</text><text class="n" x="661" y="441">Sora_Sora1g00851</text></g>
<g id="t57"><rect class="d" x="658" y="446.2" width="2" height="1.6"/><text class="b" x="657.5" y="446">0</text><text class="n" x="661" y="448.9">Sora_Sora1g00858</text></g>
<g id="t58"><rect class="d" x="658" y="454.1" width="2" height="1.6"/><text class="b" x="657.5" y="453.9">1e-06</text><text class="n" x="661" y="456.8">Sora_Sora1g00860</text></g>
<g id="t59"><rect class="d" x="658" y="461.9" width="2" height="1.6"/><text class="b" x="657.5" y="461.7">0.00155</text><text class="n" x="661" y="464.6">Sora_Sora1g00857</text></g>
<g id="t60"><rect class="d" x="445" y="469.8" width="2" height="1.6"/><text class="b" x="444.5" y="469.6">0.0227</text><text class="n" x="448" y="472.5">Lami_Lami3g01815</text></g>
<g id="t61"><rect class="d" x="460" y="477.7" width="2" height="1.6"/><text class="b" x="459.5" y="477.5">0.0157</text><text class="n" x="463" y="480.4">Heuh_Heuh10000005.1g02141</text></g>
<g id="t62"><rect class="d" x="467" y="485.6" width="2" height="1.6"/><text class="b" x="466.5" y="485.4">0.0235</text><text class="n" x="470" y="488.3">Pstu_Pstu4g02780</text></g>
<g id="t63"><rect class="d" x="393" y="493.5" width="2" height="1.6"/><text class="b" x="392.5" y="493.3">0.0175</text><text class="n" x="396" y="496.2">Csat_Csat7g00543</text></g>
<g id="t64"><rect class="d" x="395" y="501.3" width="2" height="1.6"/><text class="b" x="394.5" y="501.1">0.0255</text><text class="n" x="398" y="504">Mesc_Mesc3g04210</text></g>
<g id="t65"><rect class="d" x="395" y="509.2" width="2" height="1.6"/><text class="b" x="394.5" y="509">0.0249</text><text class="n" x="398" y="511.9">Rcar_Rcar1g00286</text></g>
<g id="t66"><rect class="d" x="420" y="517.1" width="2" height="1.6"/><text class="b" x="419.5" y="516.9">0.0249</text><text class="n" x="423" y="519.8">Sian_Sian3g00716</text></g>
<g id="t67"><rect class="d" x="430" y="525" width="2" height="1.6"/><text class="b" x="429.5" y="524.8">1e-06</text><text class="n" x="433" y="527.7">Aria_Aria5g01864</text></g>
<g id="t68"><rect class="d" x="437" y="532.9" width="2" height="1.6"/><text class="b" x="436.5" y="532.7">0.00155</text><text class="n" x="440" y="535.6">Arms_Arms6g04182</text></g>
<g id="t69"><rect class="d" x="498" y="540.7" width="2" height="1.6"/><text class="b" x="497.5" y="540.5">0.133</text><text class="n" x="501" y="543.4">Sesq_Sesq100005g01305</text></g>
<g id="t70"><rect class="d" x="479" y="548.6" width="2" height="1.6"/><text class="b" x="478.5" y="548.4">0.0179</text><text class="n" x="482" y="551.3">Heuh_Heuh10000005.1g02152</text></g>
<g id="t71"><rect class="d" x="473" y="556.5" width="2" height="1.6"/><text class="b" x="472.5" y="556.3">0.0157</text><text class="n" x="476" y="559.2">Pstu_Pstu4g02787</text></g>
<g id="t72"><rect class="d" x="483" y="564.4" width="2" height="1.6"/><text class="b" x="482.5" y="564.2">0.0221</text><text class="n" x="486" y="567.1">Lami_Lami3g01816</text></g>
<g id="t73"><rect class="d" x="502" y="572.3" width="2" height="1.6"/><text class="b" x="501.5" y="572.1">0.0557</text><text class="n" x="505" y="575">Lami_Lami3g01589</text></g>
<g id="t74"><rect class="d" x="557" y="580.1" width="2" height="1.6"/><text class="b" x="556.5" y="579.9">0.0597</text><text class="n" x="560" y="582.8">Selo_Selo1g01548</text></g>
<g id="t75"><rect class="d" x="618" y="588" width="2" height="1.6"/><text class="b" x="617.5" y="587.8">0.0217</text><text class="n" x="621" y="590.7">Chmo_Chmo3g00825</text></g>
<g id="t76"><rect class="d" x="662" y="595.9" width="2" height="1.6"/><text class="b" x="661.5" y="595.7">0.00155</text><text class="n" x="665" y="598.6">Chmo_Chmo2g03151</text></g>
<g id="t77"><rect class="d" x="660" y="603.8" width="2" height="1.6"/><text class="b" x="659.5" y="603.6">0.00157</text><text class="n" x="663" y="606.5">Chmo_Chmo17g03310</text></g>
<g id="t78"><rect class="d" x="682" y="611.7" width="2" height="1.6"/><text class="b" x="681.5" y="611.5">1e-06</text><text class="n" x="685" y="614.4">Chna_Chna6g01530</text></g>
<g id="t79"><rect class="d" x="687" y="619.5" width="2" height="1.6"/><text class="b" x="686.5" y="619.3">0.00155</text><text class="n" x="690" y="622.2">Chna_Chna4g01884</text></g>
<g id="t80"><rect class="d" x="683" y="627.4" width="2" height="1.6"/><text class="b" x="682.5" y="627.2">0.00152</text><text class="n" x="686" y="630.1">Chna_Chna8g01069</text></g>
<g id="t81"><rect class="d" x="683" y="635.3" width="2" height="1.6"/><text class="b" x="682.5" y="635.1">1e-06</text><text class="n" x="686" y="638">Chna_Chna8g01071</text></g>
<g id="t82"><rect class="d" x="707" y="643.2" width="2" height="1.6"/><text class="b" x="706.5" y="643">0.285</text><text class="n" x="710" y="645.9">Aary_Aary6g00778</text></g>
<g id="t83"><rect class="d" x="562" y="651.1" width="2" height="1.6"/><text class="b" x="561.5" y="650.9">0.0157</text><text class="n" x="565" y="653.8">Arr_Arr1g07886</text></g>
<g id="t84"><rect class="d" x="553" y="658.9" width="2" height="1.6"/><text class="b" x="552.5" y="658.7">0.0211</text><text class="n" x="556" y="661.6">Aaen_Aaen5g00775</text></g>
<g id="t85"><rect class="d" x="535" y="666.8" width="2" height="1.6"/><text class="b" x="534.5" y="666.6">1e-06</text><text class="n" x="538" y="669.5">Sora_Sora4g00826</text></g>
<g id="t86"><rect class="d" x="540" y="674.7" width="2" height="1.6"/><text class="b" x="539.5" y="674.5">0.00157</text><text class="n" x="543" y="677.4">Sora_Sora4g00827</text></g>
<g id="t87"><rect class="d" x="562" y="682.6" width="2" height="1.6"/><text class="b" x="561.5" y="682.4">0.075</text><text class="n" x="565" y="685.3">Eran_Eran3g00858</text></g>
<g id="t88"><rect class="d" x="562" y="690.5" width="2" height="1.6"/><text class="b" x="561.5" y="690.3">0.0235</text><text class="n" x="565" y="693.2">Sora_Sora1g00852</text></g>
<g id="t89"><rect class="d" x="582" y="698.3" width="2" height="1.6"/><text class="b" x="581.5" y="698.1">0.00155</text><text class="n" x="585" y="701">Scac_Scac1000003g02722</text></g>
<g id="t90"><rect class="d" x="582" y="706.2" width="2" height="1.6"/><text class="b" x="581.5" y="706">0.0171</text><text class="n" x="585" y="708.9">Scac_Scac1000005g00001</text></g>
<g id="t91"><rect class="d" x="503" y="714.1" width="2" height="1.6"/><text class="b" x="502.5" y="713.9">0.0544</text><text class="n" x="506" y="716.8">Amtr_Amtr9g02877</text></g>
<g id="t92"><rect class="d" x="505" y="722" width="2" height="1.6"/><text class="b" x="504.5" y="721.8">0.0119</text><text class="n" x="508" y="724.7">Hean_Hean9g00470</text></g>
<g id="t93"><rect class="d" x="528" y="729.9" width="2" height="1.6"/><text class="b" x="527.5" y="729.7">0.00981</text><text class="n" x="531" y="732.6">Halu_Halu2g00469</text></g>
<g id="t94"><rect class="d" x="552" y="737.7" width="2" height="1.6"/><text class="b" x="551.5" y="737.5">0.00155</text><text class="n" x="555" y="740.4">Halu_Halu2g00513</text></g>
<g id="t95"><rect class="d" x="552" y="745.6" width="2" height="1.6"/><text class="b" x="551.5" y="745.4">0.00157</text><text class="n" x="555" y="748.3">Halu_Halu2g00516</text></g>
<g id="t96"><rect class="d" x="515" y="753.5" width="2" height="1.6"/><text class="b" x="514.5" y="753.3">0.00154</text><text class="n" x="518" y="756.2">Bapi_Bapi3g00806</text></g>
<g id="t97"><rect class="d" x="535" y="761.4" width="2" height="1.6"/><text class="b" x="534.5" y="761.2">0.0111</text><text class="n" x="538" y="764.1">Bapi_Bapi1g02874</text></g>
<g id="t98"><rect class="d" x="540" y="769.3" width="2" height="1.6"/><text class="b" x="539.5" y="769.1">0.00157</text><text class="n" x="543" y="772">Bapi_Bapi3g00500</text></g>
<g id="t99"><rect class="d" x="543" y="777.1" width="2" height="1.6"/><text class="b" x="542.5" y="776.9">0.0328</text><text class="n" x="546" y="779.8">Cobg_Cobg4g00570</text></g>
<g id="t100"><rect class="d" x="553" y="785" width="2" height="1.6"/><text class="b" x="552.5" y="784.8">0.00151</text><text class="n" x="556" y="787.7">Bud_Bud5g00427</text></g>
<g id="t101"><rect class="d" x="553" y="792.9" width="2" height="1.6"/><text class="b" x="552.5" y="792.7">0.00151</text><text class="n" x="556" y="795.6">Bud_Bud6g00186</text></g>
<g id="t102"><rect class="d" x="500" y="800.8" width="2" height="1.6"/><text class="b" x="499.5" y="800.6">0.0388</text><text class="n" x="503" y="803.5">Smus_Smus3g00450</text></g>
<g id="t103"><rect class="d" x="498" y="808.7" width="2" height="1.6"/><text class="b" x="497.5" y="808.5">0.0229</text><text class="n" x="501" y="811.4">Smus_Smus3g00449</text></g>
<g id="t104"><rect class="d" x="547" y="816.5" width="2" height="1.6"/><text class="b" x="546.5" y="816.3">0.0876</text><text class="n" x="550" y="819.2">Tacn_Tacn5g00300</text></g>
<g id="t105"><rect class="d" x="573" y="824.4" width="2" height="1.6"/><text class="b" x="572.5" y="824.2">0.00157</text><text class="n" x="576" y="827.1">Erc_Erc100005g00001</text></g>
<g id="t106"><rect class="d" x="615" y="832.3" width="2" height="1.6"/><text class="b" x="614.5" y="832.1">0.0177</text><text class="n" x="618" y="835">Ersa_Ersa1g01629</text></g>
<g id="t107"><rect class="d" x="638" y="840.2" width="2" height="1.6"/><text class="b" x="637.5" y="840">0.00155</text><text class="n" x="641" y="842.9">Erc_Erc3g02389</text></g>
<g id="t108"><rect class="d" x="660" y="848.1" width="2" height="1.6"/><text class="b" x="659.5" y="847.9">0.0275</text><text class="n" x="663" y="850.8">Ersa_Ersa3g01826</text></g>
<g id="t109"><rect class="d" x="698" y="855.9" width="2" height="1.6"/><text class="b" x="697.5" y="855.7">1e-06</text><text class="n" x="701" y="858.6">Ercl_Ercl48575g00001</text></g>
<g id="t110"><rect class="d" x="698" y="863.8" width="2" height="1.6"/><text class="b" x="697.5" y="863.6">1e-06</text><text class="n" x="701" y="866.5">Ercl_Ercl4g01438</text></g>
<g id="t111"><rect class="d" x="793" y="871.7" width="2" height="1.6"/><text class="b" x="792.5" y="871.5">1e-06</text><text class="n" x="796" y="874.4">Ersa_Ersa2g01507</text></g>
<g id="t112"><rect class="d" x="800" y="879.6" width="2" height="1.6"/><text class="b" x="799.5" y="879.4">0.00155</text><text class="n" x="803" y="882.3">Ercl_Ercl00000273.1g00001</text></g>
<g id="t113"><rect class="d" x="760" y="887.5" width="2" height="1.6"/><text class="b" x="759.5" y="887.3">0.0506</text><text class="n" x="763" y="890.2">Ercl_Ercl43508g00001</text></g>
<g id="t114"><rect class="d" x="748" y="895.3" width="2" height="1.6"/><text class="b" x="747.5" y="895.1">0.0359</text><text class="n" x="751" y="898">Ercl_Ercl00000288g00001</text></g>
<g id="t115"><rect class="d" x="706" y="903.2" width="2" height="1.6"/><text class="b" x="705.5" y="903">0.00151</text><text class="n" x="709" y="905.9">Ercl_Ercl17421g00001</text></g>
<g id="t116"><rect class="d" x="592" y="911.1" width="2" height="1.6"/><text class="b" x="591.5" y="910.9">0.0314</text><text class="n" x="595" y="913.8">Erc_Erc3g02390</text></g>
<g id="t117"><rect class="d" x="599" y="919" width="2" height="1.6"/><text class="b" x="598.5" y="918.8">0.133</text><text class="n" x="602" y="921.7">Amtr_Amtr9g00314</text></g>
<g id="t118"><rect class="d" x="568" y="926.9" width="2" height="1.6"/><text class="b" x="567.5" y="926.7">0.0754</text><text class="n" x="571" y="929.6">Sesq_Sesq3g00505</text></g>
<g id="t119"><rect class="d" x="562" y="934.7" width="2" height="1.6"/><text class="b" x="561.5" y="934.5">0.108</text><text class="n" x="565" y="937.4">Heuh_Heuh100000014g00739</text></g>
<g id="t120"><rect class="d" x="583" y="942.6" width="2" height="1.6"/><text class="b" x="582.5" y="942.4">0.277</text><text class="n" x="586" y="945.3">Tacn_Tacn5g00301</text></g>
<g id="t121"><rect class="d" x="453" y="950.5" width="2" height="1.6"/><text class="b" x="452.5" y="950.3">0.08</text><text class="n" x="456" y="953.2">Ply_Ply1g05538</text></g>
<g id="t122"><rect class="d" x="447" y="958.4" width="2" height="1.6"/><text class="b" x="446.5" y="958.2">0.0488</text><text class="n" x="450" y="961.1">Pcn_Pcn3g00010</text></g>
<g id="t123"><rect class="d" x="420" y="966.3" width="2" height="1.6"/><text class="b" x="419.5" y="966.1">0.11</text><text class="n" x="423" y="969">Aary_Aary6g01159</text></g>
<g id="t124"><rect class="d" x="453" y="974.1" width="2" height="1.6"/><text class="b" x="452.5" y="973.9">0.135</text><text class="n" x="456" y="976.8">Ipa_Ipa1000000000g00002</text></g>
<g id="t125"><rect class="d" x="462" y="982" width="2" height="1.6"/><text class="b" x="461.5" y="981.8">0.0245</text><text class="n" x="465" y="984.7">Lasa_Lasa4g01300</text></g>
<g id="t126"><rect class="d" x="465" y="989.9" width="2" height="1.6"/><text class="b" x="464.5" y="989.7">0.00158</text><text class="n" x="468" y="992.6">Lasa_Lasa6g01559</text></g>
</svg>
